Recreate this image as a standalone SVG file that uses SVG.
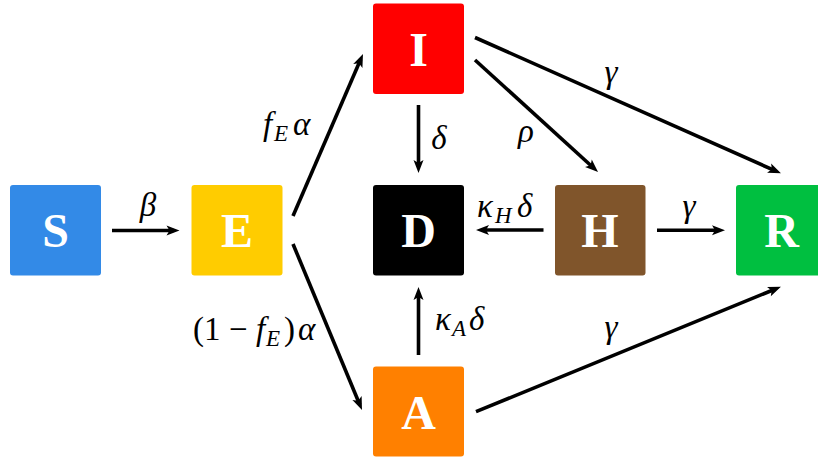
<svg xmlns="http://www.w3.org/2000/svg" width="818" height="459" viewBox="0 0 818 459" font-family="Liberation Serif, DejaVu Serif, serif">
<style>
.box{stroke:none}
.nl{font-weight:bold;font-size:48px;fill:#fff;text-anchor:middle}
.lbl{font-size:33px;fill:#000}
.it{font-style:italic}
.sub{font-size:23px;font-style:italic}
.edge{stroke:#000;stroke-width:3.6;fill:none;marker-end:url(#ah)}
</style>
<defs>
<marker id="ah" markerUnits="userSpaceOnUse" viewBox="-8 -6 15 12" refX="0" refY="0" markerWidth="15" markerHeight="12" orient="auto">
<path d="M-7,-5 L6,0 L-7,5 L-4,0 Z" fill="#000"/>
</marker>
</defs>
<rect width="818" height="459" fill="#fff"/>
<g id="connectors">
<line class="edge" x1="112" y1="230.5" x2="173.5" y2="230.5"/>
<line class="edge" x1="293" y1="216" x2="360.6" y2="59.5"/>
<line class="edge" x1="293" y1="244" x2="359.7" y2="404.5"/>
<line class="edge" x1="418.5" y1="105" x2="418.5" y2="167"/>
<line class="edge" x1="418.5" y1="355" x2="418.5" y2="293"/>
<line class="edge" x1="543.5" y1="230" x2="482" y2="230"/>
<line class="edge" x1="657" y1="230.3" x2="719" y2="230.3"/>
<line class="edge" x1="475" y1="60" x2="593.6" y2="168"/>
<line class="edge" x1="475" y1="37.5" x2="775.5" y2="170.9"/>
<line class="edge" x1="476" y1="411.7" x2="775.4" y2="289"/>
<text class="lbl it" x="148" y="216" text-anchor="middle">β</text>
<text class="lbl"><tspan class="it" x="263" y="135">f</tspan><tspan class="sub" x="274" y="141">E</tspan><tspan class="it" x="293" y="135">α</tspan></text>
<text class="lbl"><tspan x="193" y="340">(1</tspan><tspan x="229" y="340">−</tspan><tspan class="it" x="256" y="340">f</tspan><tspan class="sub" x="266" y="346">E</tspan><tspan x="284" y="340">)</tspan><tspan class="it" x="298" y="340">α</tspan></text>
<text class="lbl it" x="439" y="149" text-anchor="middle">δ</text>
<text class="lbl it" x="526" y="142" text-anchor="middle">ρ</text>
<text class="lbl it" x="611" y="83" text-anchor="middle">γ</text>
<text class="lbl"><tspan class="it" x="477" y="217">κ</tspan><tspan class="sub" x="495" y="223">H</tspan><tspan class="it" x="517" y="217">δ</tspan></text>
<text class="lbl it" x="689" y="217" text-anchor="middle">γ</text>
<text class="lbl"><tspan class="it" x="435" y="330">κ</tspan><tspan class="sub" x="452" y="336">A</tspan><tspan class="it" x="469" y="330">δ</tspan></text>
<text class="lbl it" x="611" y="338" text-anchor="middle">γ</text>
</g>
<g id="S"><rect class="box" x="10" y="185" width="91" height="90.5" rx="3" fill="#338AE7"/><text class="nl" x="55.5" y="247">S</text></g>
<g id="E"><rect class="box" x="191.5" y="185" width="91" height="90.5" rx="3" fill="#FFCC00"/><text class="nl" x="237" y="247">E</text></g>
<g id="I"><rect class="box" x="373" y="3.5" width="91" height="90.5" rx="3" fill="#FF0000"/><text class="nl" x="418.5" y="65.5">I</text></g>
<g id="D"><rect class="box" x="373" y="185" width="91" height="90.5" rx="3" fill="#000000"/><text class="nl" x="418.5" y="247">D</text></g>
<g id="H"><rect class="box" x="555" y="185" width="90.5" height="90.5" rx="3" fill="#80552B"/><text class="nl" x="600" y="247">H</text></g>
<g id="R"><rect class="box" x="736" y="185" width="91" height="90.5" rx="3" fill="#00BF40"/><text class="nl" x="781.5" y="247">R</text></g>
<g id="A"><rect class="box" x="373" y="366.5" width="91" height="90" rx="3" fill="#FF8000"/><text class="nl" x="418.5" y="428.5">A</text></g>
</svg>
